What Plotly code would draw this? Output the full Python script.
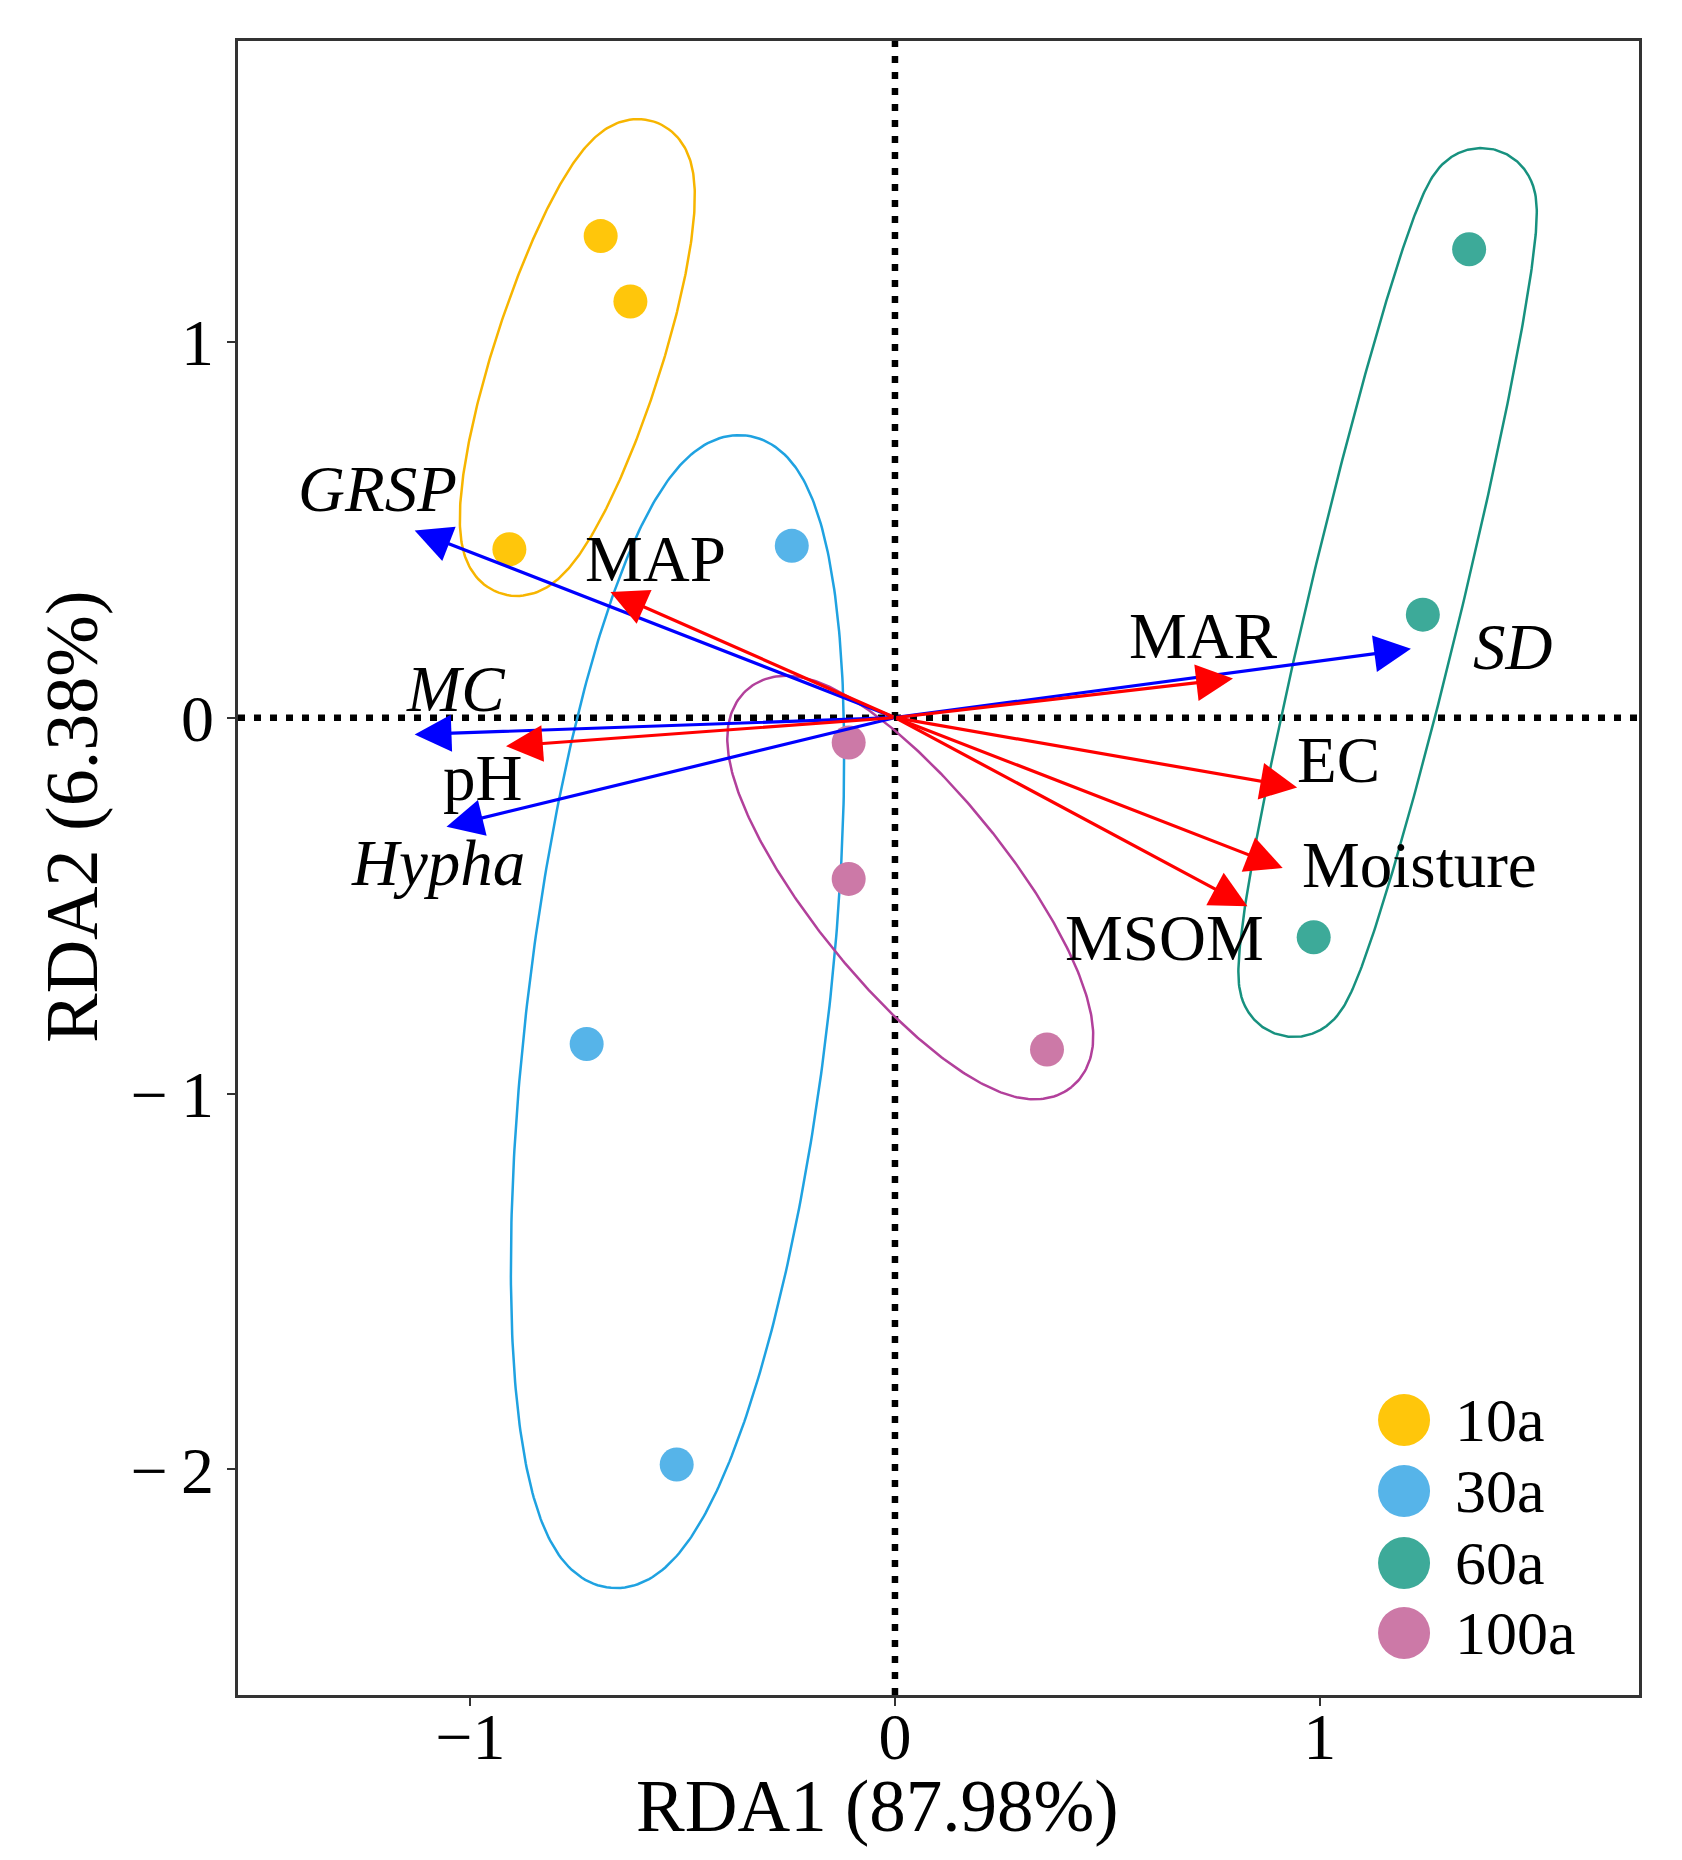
import numpy as np
import plotly.graph_objects as go

# sample scores by group
groups = ['10a', '30a', '60a', '100a']
point_colors = ['#FFC60B', '#56B4E9', '#3DAA99', '#CC79A7']
ellipse_colors = ['#F7B500', '#1FA2E1', '#17917F', '#B2409B']

x_10a = [-0.693, -0.623, -0.908]
y_10a = [1.281, 1.107, 0.448]
x_30a = [-0.243, -0.726, -0.514]
y_30a = [0.457, -0.868, -1.987]
x_60a = [1.352, 1.243, 0.986]
y_60a = [1.246, 0.274, -0.584]
x_100a = [-0.109, -0.109, 0.358]
y_100a = [-0.066, -0.429, -0.883]

# group hulls (ellipse + margin, like ggforce mark_ellipse)
# centre in data units, semi axes and margin in x-axis units, angle in degrees on screen
ell_cx = [-0.748, -0.512, 1.160, 0.036]
ell_cy = [0.958, -0.782, 0.333, -0.452]
ell_a = [0.478, 1.277, 0.950, 0.520]
ell_b = [0.090, 0.265, 0.056, 0.148]
ell_ang = [72.0, 83.2, 76.5, -51.0]
ell_margin = [0.106, 0.089, 0.123, 0.084]

# environmental vectors
blue_vars = ['GRSP', 'MC', 'Hypha', 'SD']
blue_x = [-1.131, -1.131, -1.056, 1.215]
blue_y = [0.498, -0.045, -0.290, 0.183]
blue_lab_x = [-1.218, -1.034, -1.075, 1.453]
blue_lab_y = [0.609, 0.076, -0.388, 0.189]

red_vars = ['MAP', 'pH', 'MAR', 'EC', 'Moisture', 'MSOM']
red_x = [-0.670, -0.916, 0.796, 0.947, 0.913, 0.830]
red_y = [0.334, -0.076, 0.104, -0.186, -0.400, -0.502]
red_lab_x = [-0.564, -0.972, 0.726, 1.045, 1.235, 0.634]
red_lab_y = [0.423, -0.161, 0.218, -0.114, -0.391, -0.587]

FONT = 'Liberation Serif'
W, H = 1682, 1860
M = dict(l=230, r=51, t=33, b=173)
x_range = [-1.547, 1.752]
y_range = [-2.60, 1.80]

xs = [x_10a, x_30a, x_60a, x_100a]
ys = [y_10a, y_30a, y_60a, y_100a]

# screen aspect: ratio of px per x unit to px per y unit
kx = (W - M['l'] - M['r']) / (x_range[1] - x_range[0])
ky = (H - M['t'] - M['b']) / (y_range[1] - y_range[0])
aspect = kx / ky

fig = go.Figure()

# hulls
t = np.linspace(0, 2 * np.pi, 400)
for i, g in enumerate(groups):
    a, b, e = ell_a[i], ell_b[i], ell_margin[i]
    ux, uy = a * np.cos(t), b * np.sin(t)
    nx, ny = b * np.cos(t), a * np.sin(t)
    nn = np.hypot(nx, ny)
    px = ux + e * nx / nn
    py = uy + e * ny / nn
    th = np.radians(ell_ang[i])
    X = px * np.cos(th) - py * np.sin(th)
    Y = px * np.sin(th) + py * np.cos(th)
    fig.add_trace(go.Scatter(x=ell_cx[i] + X, y=ell_cy[i] + Y * aspect, mode='lines',
                             line=dict(color=ellipse_colors[i], width=2.5),
                             hoverinfo='skip', showlegend=False))

# points
for i, g in enumerate(groups):
    fig.add_trace(go.Scatter(x=xs[i], y=ys[i], mode='markers', name=g,
                             marker=dict(size=34, color=point_colors[i], line=dict(width=0)),
                             showlegend=False))

annotations = []
# arrows: blue first, red on top
for vx, vy, col in [(blue_x, blue_y, '#0000FF'), (red_x, red_y, '#FF0000')]:
    for xx, yy in zip(vx, vy):
        annotations.append(dict(x=xx, y=yy, ax=0, ay=0, xref='x', yref='y', axref='x', ayref='y',
                                text='', showarrow=True, arrowhead=2, arrowsize=2.3,
                                arrowwidth=3.2, arrowcolor=col, standoff=0))

for name, lx, ly in zip(blue_vars, blue_lab_x, blue_lab_y):
    annotations.append(dict(x=lx, y=ly, xref='x', yref='y', text='<i>' + name + '</i>', showarrow=False,
                            font=dict(family=FONT, size=65, color='black')))
for name, lx, ly in zip(red_vars, red_lab_x, red_lab_y):
    annotations.append(dict(x=lx, y=ly, xref='x', yref='y', text=name, showarrow=False,
                            font=dict(family=FONT, size=65, color='black')))

# axis titles
annotations.append(dict(x=0.4568, y=-0.0675, xref='paper', yref='paper', text='RDA1 (87.98%)',
                        showarrow=False, xanchor='center', yanchor='middle',
                        font=dict(family=FONT, size=73, color='black')))
annotations.append(dict(x=-0.1185, y=0.531, xref='paper', yref='paper', text='RDA2 (6.38%)',
                        showarrow=False, textangle=-90, xanchor='center', yanchor='middle',
                        font=dict(family=FONT, size=74, color='black')))

# legend (drawn by hand so the keys can be big)
shapes = []
leg_y = [0.1663, 0.1233, 0.0798, 0.0375]
for i, g in enumerate(groups):
    shapes.append(dict(type='circle', xref='paper', yref='paper', xsizemode='pixel', ysizemode='pixel',
                       xanchor=0.8323, yanchor=leg_y[i], x0=-26, x1=26, y0=-26, y1=26,
                       fillcolor=point_colors[i], line=dict(width=0)))
    annotations.append(dict(x=0.8672, y=leg_y[i], xref='paper', yref='paper', text=g, showarrow=False,
                            xanchor='left', yanchor='middle',
                            font=dict(family=FONT, size=62, color='black')))

# dotted zero lines
shapes.append(dict(type='line', xref='x', yref='paper', x0=0, x1=0, y0=0, y1=1, layer='below',
                   line=dict(color='black', width=6.5, dash='7px,9px')))
shapes.append(dict(type='line', xref='paper', yref='y', x0=0, x1=1, y0=0, y1=0, layer='below',
                   line=dict(color='black', width=6.5, dash='7px,9px')))

axis_style = dict(showgrid=False, zeroline=False, showline=True, mirror=True, linecolor='#333333',
                  linewidth=2.5, ticks='outside', ticklen=8, tickwidth=2, tickcolor='#333333',
                  tickfont=dict(family=FONT, size=66, color='black'))

fig.update_layout(
    width=W, height=H,
    margin=M,
    plot_bgcolor='white', paper_bgcolor='white',
    xaxis=dict(range=x_range, tickvals=[-1, 0, 1], ticktext=['\u22121', '0', '1'],
               ticklabelstandoff=-26, **axis_style),
    yaxis=dict(range=y_range, tickvals=[-2, -1, 0, 1],
               ticktext=['\u2212\u20092', '\u2212\u20091', '0', '1'], **axis_style),
    annotations=annotations,
    shapes=shapes,
    showlegend=False,
)

fig.write_html("out.html")
